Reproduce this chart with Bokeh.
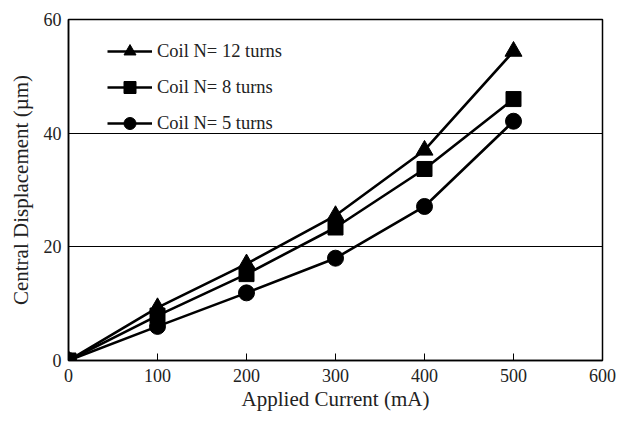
from bokeh.plotting import figure
from bokeh.models import Range1d, Legend, LegendItem, FixedTicker
from bokeh.embed import file_html
from bokeh.resources import INLINE

current = [0, 100, 200, 300, 400, 500]
n12 = [0, 9.3, 17.0, 25.5, 37.0, 54.4]
n8 = [0, 7.9, 15.2, 23.4, 33.7, 46.0]
n5 = [0, 6.0, 11.9, 18.0, 27.1, 42.1]
labels = ["Coil N= 12 turns", "Coil N= 8 turns", "Coil N= 5 turns"]
x_ticks = [0, 100, 200, 300, 400, 500, 600]
y_ticks = [0, 20, 40, 60]

FONT = "Liberation Serif"

p = figure(width=619, height=413, output_backend="svg", toolbar_location=None,
           x_range=Range1d(0, 600), y_range=Range1d(0, 60),
           min_border_left=68, min_border_right=17, min_border_top=19, min_border_bottom=50)

p.outline_line_color = "black"
p.outline_line_width = 1.5
p.xgrid.grid_line_color = None
p.ygrid.grid_line_color = "black"
p.ygrid.grid_line_width = 1.2
p.ygrid.ticker = FixedTicker(ticks=y_ticks)

p.xaxis.ticker = FixedTicker(ticks=x_ticks)
p.yaxis.ticker = FixedTicker(ticks=y_ticks)
for ax in (p.xaxis, p.yaxis):
    ax.axis_line_color = "black"
    ax.axis_line_width = 1.5
    ax.major_label_text_font = FONT
    ax.major_label_text_font_size = "18px"
    ax.major_label_text_color = "#222222"
    ax.axis_label_text_font = FONT
    ax.axis_label_text_font_size = "21px"
    ax.axis_label_text_font_style = "normal"
    ax.axis_label_text_color = "#222222"
    ax.minor_tick_line_color = None
p.xaxis.major_tick_in = 7
p.xaxis.major_tick_out = 0
p.xaxis.major_tick_line_color = "black"
p.yaxis.major_tick_in = 0
p.yaxis.major_tick_out = 0
p.xaxis.axis_label = "Applied Current (mA)"
p.yaxis.axis_label = "Central Displacement (\u00b5m)"
p.xaxis.major_label_standoff = 8
p.yaxis.major_label_standoff = 7
p.xaxis.axis_label_standoff = 2
p.yaxis.axis_label_standoff = 8

lw = 2.6
l1 = p.line(current, n12, line_color="black", line_width=lw)
m1 = p.scatter(current, n12, marker="triangle", size=17, color="black")
l2 = p.line(current, n8, line_color="black", line_width=lw)
m2 = p.scatter(current, n8, marker="square", size=15, color="black")
l3 = p.line(current, n5, line_color="black", line_width=lw)
m3 = p.scatter(current, n5, marker="circle", size=16, color="black")

legend = Legend(items=[
    LegendItem(label=labels[0], renderers=[l1, m1]),
    LegendItem(label=labels[1], renderers=[l2, m2]),
    LegendItem(label=labels[2], renderers=[l3, m3]),
], location=(39, 222))
legend.border_line_color = None
legend.background_fill_alpha = 0
legend.label_text_font = FONT
legend.label_text_font_size = "18.5px"
legend.label_text_color = "#222222"
legend.glyph_width = 45
legend.glyph_height = 30
legend.label_height = 30
legend.spacing = 6
legend.padding = 8
legend.label_standoff = 5
p.add_layout(legend, "center")

open("out.html", "w").write(file_html(p, INLINE))
